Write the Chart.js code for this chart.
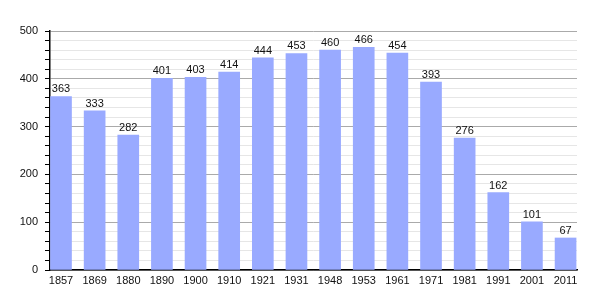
<!DOCTYPE html>
<html>
<head>
<meta charset="utf-8">
<script src="https://cdn.jsdelivr.net/npm/chart.js@4/dist/chart.umd.min.js"></script>
<style>
  body { margin: 0; background: #fff; }
</style>
</head>
<body>
<canvas id="chart" width="605" height="300"></canvas>
<script>
// Data
const years = ['1857','1869','1880','1890','1900','1910','1921','1931','1948','1953','1961','1971','1981','1991','2001','2011'];
const population = [363, 333, 282, 401, 403, 414, 444, 453, 460, 466, 454, 393, 276, 162, 101, 67];
const yTicks = [0, 100, 200, 300, 400, 500];

const FONT = '"Liberation Sans", Arial, sans-serif';

// Value labels above bars
const valueLabels = {
  id: 'valueLabels',
  afterDatasetsDraw(chart){
    const c = chart.ctx;
    const meta = chart.getDatasetMeta(0);
    c.save();
    c.font = '11px ' + FONT;
    c.fillStyle = '#111';
    c.textAlign = 'center';
    c.textBaseline = 'alphabetic';
    meta.data.forEach((bar, i)=>{
      c.fillText(population[i], bar.x, bar.y - 4);
    });
    c.restore();
  }
};

const ctx = document.getElementById('chart').getContext('2d');
new Chart(ctx, {
  type: 'bar',
  data: {
    datasets: [{
      data: population.map((v, i)=>({x: i, y: v})),
      backgroundColor: '#99aaff',
      barThickness: 21
    }]
  },
  options: {
    responsive: false,
    animation: false,
    layout: { padding: { top: 31, right: 28, left: 0, bottom: 0 } },
    plugins: { legend: { display: false }, tooltip: { enabled: false } },
    scales: {
      x: {
        type: 'linear',
        offset: false,
        min: -0.327,
        max: 15.34,
        afterBuildTicks: scale => { scale.ticks = years.map((_, i)=>({value: i})); },
        afterFit: scale => { scale.height = 30; },
        grid: { display: true, offset: false, drawOnChartArea: false, drawTicks: false },
        border: { color: '#000', width: 1.5 },
        ticks: {
          padding: 4,
          autoSkip: false,
          maxRotation: 0,
          color: '#111',
          font: { family: FONT, size: 11 },
          callback: v => years[v]
        }
      },
      y: {
        min: 0,
        max: 500,
        afterFit: scale => { scale.width = 50; },
        ticks: {
          stepSize: 20,
          maxTicksLimit: 40,
          autoSkip: false,
          padding: 7,
          color: '#111',
          font: { family: FONT, size: 11 },
          callback: v => yTicks.includes(v) ? v : ''
        },
        grid: {
          color: c => (c.tick && c.tick.value % 100 === 0) ? '#aaaaaa' : '#e6e6e6',
          tickColor: '#000',
          tickLength: 5
        },
        border: { color: '#000', width: 1.5 }
      }
    }
  },
  plugins: [valueLabels]
});
</script>
</body>
</html>
